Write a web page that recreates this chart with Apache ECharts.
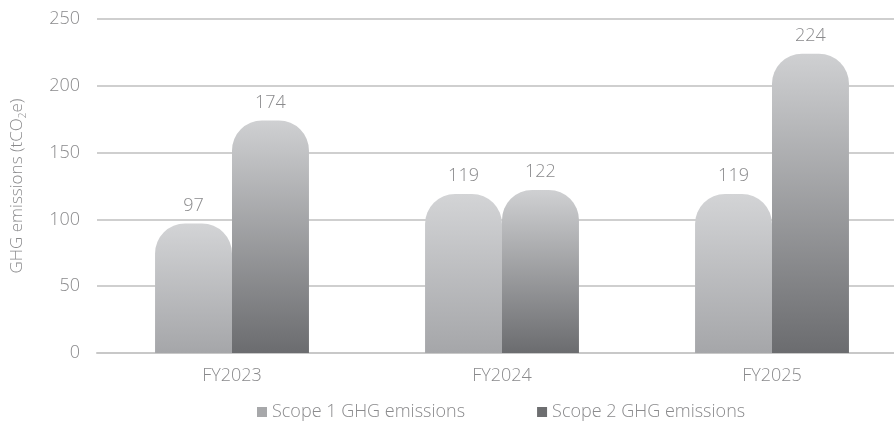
<!DOCTYPE html>
<html>
<head>
<meta charset="utf-8">
<script src="https://cdn.jsdelivr.net/npm/echarts@6/dist/echarts.min.js"></script>
<style>
  html, body { margin: 0; padding: 0; background: #ffffff; }
  #chart { width: 894px; height: 421px; }
</style>
</head>
<body>
<div id="chart"></div>
<script>
// Fiscal years on the category axis
const years = ['FY2023', 'FY2024', 'FY2025'];
// Emissions in tCO2e
const scope1 = [97, 119, 119];
const scope2 = [174, 122, 224];
const seriesNames = ['Scope 1 GHG emissions', 'Scope 2 GHG emissions'];
const yTicks = [0, 50, 100, 150, 200, 250];

const FONT = '"Open Sans", "Noto Sans", sans-serif';
const TEXT = '#8a8a8c';
const FS = 18;

function fade(top, bottom) {
  return new echarts.graphic.LinearGradient(0, 0, 0, 1, [
    { offset: 0, color: top },
    { offset: 1, color: bottom }
  ]);
}

const chart = echarts.init(document.getElementById('chart'));
chart.setOption({
  animation: false,
  textStyle: { fontFamily: FONT },
  // plot area runs a little past the right edge of the canvas
  grid: { left: 97, width: 810, top: 19, bottom: 68, containLabel: false, outerBoundsMode: 'none' },
  legend: {
    top: 398,
    left: 252,
    itemWidth: 10,
    itemHeight: 10,
    itemGap: 72,
    icon: 'rect',
    textStyle: { color: TEXT, fontSize: FS, fontWeight: 300, fontFamily: FONT },
    data: [
      { name: seriesNames[0], itemStyle: { color: '#a7a8aa' } },
      { name: seriesNames[1], itemStyle: { color: '#6d6e70' } }
    ]
  },
  xAxis: {
    type: 'category',
    data: years,
    axisLine: { show: true, lineStyle: { color: '#c8c8c8', width: 2 } },
    axisTick: { show: false },
    axisLabel: { color: TEXT, fontSize: FS, fontWeight: 300, margin: 14 }
  },
  yAxis: {
    type: 'value',
    min: yTicks[0],
    max: yTicks[yTicks.length - 1],
    interval: 50,
    name: '{a|GHG emissions (tCO}{s|2}{a|e)}',
    nameLocation: 'middle',
    nameRotate: 90,
    nameGap: 69,
    nameTextStyle: {
      rich: {
        a: { color: TEXT, fontSize: 17, fontWeight: 300, fontFamily: FONT },
        s: { color: TEXT, fontSize: 10, fontWeight: 300, fontFamily: FONT, verticalAlign: 'bottom', padding: [11, 0, 0, 0] }
      }
    },
    axisLine: { show: false },
    axisTick: { show: false },
    axisLabel: { color: TEXT, fontSize: FS, fontWeight: 300, margin: 17 },
    splitLine: { lineStyle: { color: '#cfcfcf', width: 2 } }
  },
  series: [
    {
      name: seriesNames[0],
      type: 'bar',
      data: scope1,
      barWidth: '28.5%',
      barGap: '0%',
      itemStyle: { color: fade('#d3d4d6', '#a5a6a9'), borderRadius: [30, 30, 0, 0] },
      label: { show: true, position: 'top', distance: 9, color: TEXT, fontSize: FS, fontWeight: 300 }
    },
    {
      name: seriesNames[1],
      type: 'bar',
      data: scope2,
      barWidth: '28.5%',
      barGap: '0%',
      itemStyle: { color: fade('#cfd0d2', '#6b6c6f'), borderRadius: [30, 30, 0, 0] },
      label: { show: true, position: 'top', distance: 9, color: TEXT, fontSize: FS, fontWeight: 300 }
    }
  ]
});
</script>
</body>
</html>
